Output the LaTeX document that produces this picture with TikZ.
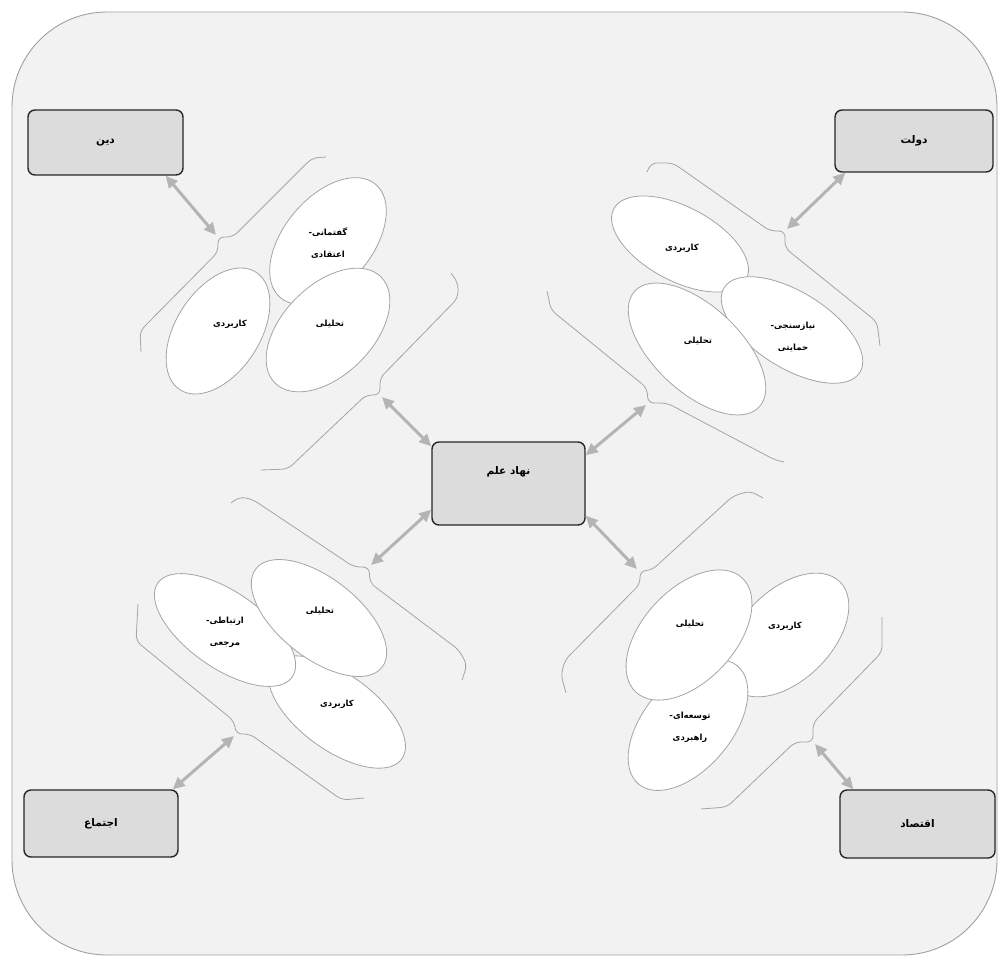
\documentclass[tikz,border=0pt]{standalone}
\usepackage{fontspec}
\newfontfamily\fa[Script=Arabic]{DejaVu Sans}
\TeXXeTstate=1
\usetikzlibrary{arrows.meta}
\definecolor{bgfill}{HTML}{F2F2F2}
\definecolor{bgline}{HTML}{A0A0A0}
\definecolor{boxfill}{HTML}{DCDCDC}
\definecolor{thin}{HTML}{A4A4A4}
\definecolor{arr}{HTML}{B4B4B4}
\newcommand\hy{\hbox{-}}
\tikzset{
  bgbox/.style={draw=bgline, fill=bgfill, line width=0.9pt, rounded corners=95pt},
  instbox/.style={draw=black!85, fill=boxfill, line width=1.4pt, rounded corners=7pt,
    font=\fa\bfseries\fontsize{10.5}{12}\selectfont},
  brace/.style={draw=thin, line width=0.8pt, rounded corners=6pt},
  ell/.style={draw=thin, fill=white, line width=0.8pt},
  etxt/.style={font=\fa\bfseries\fontsize{8.5}{22}\selectfont, align=center, inner sep=0pt},
  biarrow/.style={draw=arr, line width=3pt,
    {Triangle[length=12pt,width=11pt]}-{Triangle[length=12pt,width=11pt]}},
}
\begin{document}
\begin{tikzpicture}[x=1pt,y=-1pt]
\useasboundingbox (0,0) rectangle (1000,960);
\path[bgbox] (12,12) rectangle (997,955);

% braces
\draw[brace] (141,352) -- (140,331) -- (218,252) -- (218,237) -- (233,237) -- (312,158) -- (326,157);
\draw[brace] (451,273) -- (458,283) -- (458,298) -- (380,378) -- (380,395) -- (366,395) -- (288,469) -- (261,470);
\draw[brace] (647,172) -- (651,163) -- (673,163) -- (770,231) -- (785,231) -- (785,248) -- (877,322) -- (880,346);
\draw[brace] (547,291) -- (551,310) -- (647,388) -- (648,403) -- (667,403) -- (775,460) -- (784,462);
\draw[brace] (231,503) -- (239,497) -- (252,499) -- (354,567) -- (369,567) -- (370,583) -- (459,650) -- (467,665) -- (462,680);
\draw[brace] (566,693) -- (561,675) -- (565,660) -- (640,584) -- (640,571) -- (652,570) -- (733,496) -- (750,491) -- (763,498);
\draw[brace] (138,604) -- (136,641) -- (234,721) -- (236,734) -- (250,734) -- (318,783) -- (342,800) -- (364,798);
\draw[brace] (882,617) -- (882,652) -- (813,723) -- (813,742) -- (795,742) -- (727,807) -- (701,809);

% tips of braces
\coordinate (t1) at (216,235);
\coordinate (t2) at (382,397);
\coordinate (t3) at (787,229);
\coordinate (t4) at (646,405);
\coordinate (t5) at (371,565);
\coordinate (t6) at (637,569);
\coordinate (t7) at (234,736);
\coordinate (t8) at (815,744);

% ellipses: din
\path[ell, rotate around={57:(218,331)}] (218,331) ellipse [x radius=70pt, y radius=42pt];
\path[ell, rotate around={50:(328,241)}] (328,241) ellipse [x radius=74pt, y radius=44pt];
\path[ell, rotate around={45:(328,330)}] (328,330) ellipse [x radius=75pt, y radius=45pt];
% dolat
\path[ell, rotate around={-28:(680,244)}] (680,244) ellipse [x radius=75pt, y radius=37pt];
\path[ell, rotate around={-32:(792,330)}] (792,330) ellipse [x radius=80pt, y radius=38pt];
\path[ell, rotate around={-43:(697,349)}] (697,349) ellipse [x radius=85pt, y radius=43pt];
% ejtema
\path[ell, rotate around={-36:(337,712)}] (337,712) ellipse [x radius=80pt, y radius=38pt];
\path[ell, rotate around={-35:(225,630)}] (225,630) ellipse [x radius=82pt, y radius=38pt];
\path[ell, rotate around={-38:(319,618)}] (319,618) ellipse [x radius=80pt, y radius=40pt];
% eghtesad
\path[ell, rotate around={45:(787,635)}] (787,635) ellipse [x radius=75pt, y radius=45pt];
\path[ell, rotate around={50:(688,725)}] (688,725) ellipse [x radius=77pt, y radius=44pt];
\path[ell, rotate around={47:(689,635)}] (689,635) ellipse [x radius=78pt, y radius=46pt];

% ellipse texts
\node[etxt] (e1) at (328,243) {\beginR گفتمانی\hy\endR\\\beginR اعتقادی\endR};
\node[etxt] (e2) at (230,324) {\beginR کاربردی\endR};
\node[etxt] (e3) at (330,324) {\beginR تحلیلی\endR};
\node[etxt] (e4) at (682,248) {\beginR کاربردی\endR};
\node[etxt] (e5) at (698,341) {\beginR تحلیلی\endR};
\node[etxt] (e6) at (793,337) {\beginR نیازسنجی\hy\endR\\\beginR حمایتی\endR};
\node[etxt] (e7) at (225,632) {\beginR ارتباطی\hy\endR\\\beginR مرجعی\endR};
\node[etxt] (e8) at (320,611) {\beginR تحلیلی\endR};
\node[etxt] (e9) at (337,704) {\beginR کاربردی\endR};
\node[etxt] (e10) at (690,624) {\beginR تحلیلی\endR};
\node[etxt] (e11) at (785,626) {\beginR کاربردی\endR};
\node[etxt] (e12) at (690,727) {\beginR توسعه‌ای\hy\endR\\\beginR راهبردی\endR};

% boxes
\node[instbox, minimum width=155pt, minimum height=65pt] (din) at (105.5,142.5) {\beginR دین\endR};
\node[instbox, minimum width=158pt, minimum height=62pt] (dolat) at (914,141) {\beginR دولت\endR};
\node[instbox, minimum width=153pt, minimum height=83pt, text height=8pt, text depth=27pt] (elm) at (508.5,483.5) {\beginR نهاد علم\endR};
\node[instbox, minimum width=154pt, minimum height=67pt] (ejtema) at (101,823.5) {\beginR اجتماع\endR};
\node[instbox, minimum width=155pt, minimum height=68pt] (eghtesad) at (917.5,824) {\beginR اقتصاد\endR};

% arrows
\draw[biarrow] ([xshift=-18pt]din.south east) -- (t1);
\draw[biarrow] (t2) -- ([yshift=-5pt]elm.north west);
\draw[biarrow] ([xshift=11pt]dolat.south west) -- (t3);
\draw[biarrow] (t4) -- ([yshift=-14pt]elm.north east);
\draw[biarrow] (t5) -- ([yshift=16pt]elm.south west);
\draw[biarrow] (t6) -- ([yshift=10pt]elm.south east);
\draw[biarrow] (t7) -- ([xshift=-6pt]ejtema.north east);
\draw[biarrow] (t8) -- ([xshift=14pt]eghtesad.north west);
\end{tikzpicture}
\end{document}
